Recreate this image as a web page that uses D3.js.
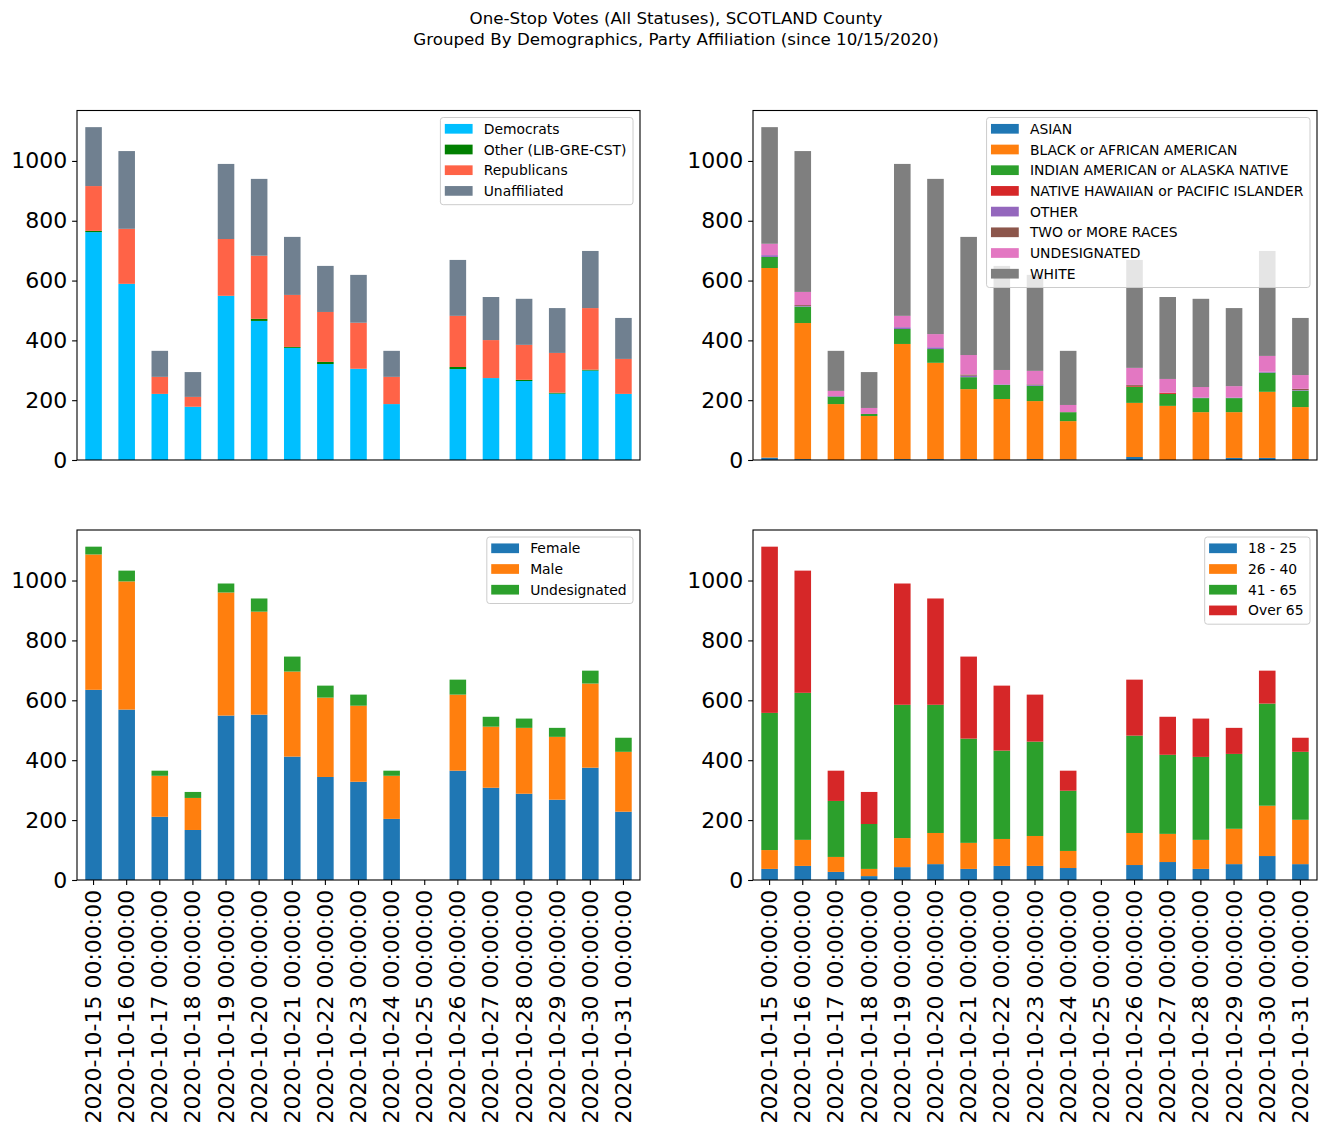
<!DOCTYPE html>
<html>
<head>
<meta charset="utf-8">
<script src="https://cdn.jsdelivr.net/npm/d3@7"></script>
<style>
html,body{margin:0;padding:0;background:#fff;}
svg text{font-family:"DejaVu Sans",sans-serif;}
</style>
</head>
<body>
<svg id="chart" width="1326" height="1137"></svg>
<script>
const dates = ["2020-10-15 00:00:00","2020-10-16 00:00:00","2020-10-17 00:00:00","2020-10-18 00:00:00","2020-10-19 00:00:00","2020-10-20 00:00:00","2020-10-21 00:00:00","2020-10-22 00:00:00","2020-10-23 00:00:00","2020-10-24 00:00:00","2020-10-25 00:00:00","2020-10-26 00:00:00","2020-10-27 00:00:00","2020-10-28 00:00:00","2020-10-29 00:00:00","2020-10-30 00:00:00","2020-10-31 00:00:00"];
const yTicks = [0,200,400,600,800,1000];

// Party affiliation
const partyNames = ["Democrats","Other (LIB-GRE-CST)","Republicans","Unaffiliated"];
const partyColors = ["#00bfff","#008000","#ff6347","#708090"];
const democrats    = [762,589,221,178,549,465,375,321,305,187,0,304,274,264,222,299,221];
const otherParty   = [4,0,0,0,0,7,3,7,0,0,0,7,0,4,3,3,0];
const republicans  = [150,184,57,33,190,211,174,167,154,91,0,171,127,117,133,206,117];
const unaffiliated = [197,260,87,83,251,257,194,154,160,87,0,187,144,154,150,191,137];

// Race
const raceNames = ["ASIAN","BLACK or AFRICAN AMERICAN","INDIAN AMERICAN or ALASKA NATIVE","NATIVE HAWAIIAN or PACIFIC ISLANDER","OTHER","TWO or MORE RACES","UNDESIGNATED","WHITE"];
const raceColors = ["#1f77b4","#ff7f0e","#2ca02c","#d62728","#9467bd","#8c564b","#e377c2","#7f7f7f"];
const asian     = [8,3,0,0,3,3,3,0,3,2,0,10,0,0,7,7,3];
const black     = [634,455,187,147,385,322,234,204,194,128,0,181,181,160,153,221,174];
const indian    = [37,55,25,7,50,46,40,47,51,30,0,54,40,47,47,64,55];
const hawaiian  = [0,0,0,0,0,0,0,0,0,0,0,3,4,0,0,0,0];
const otherRace = [6,2,2,0,6,6,5,2,3,0,0,0,0,2,2,3,2];
const twoOrMore = [0,3,0,0,0,0,4,0,2,0,0,3,0,0,0,0,4];
const undesRace = [38,44,17,20,38,44,65,48,45,24,0,57,46,35,38,53,46];
const white     = [390,471,134,120,508,519,395,348,321,181,0,361,274,295,261,351,191];

// Gender
const genderNames = ["Female","Male","Undesignated"];
const genderColors = ["#1f77b4","#ff7f0e","#2ca02c"];
const female     = [635,569,211,167,549,552,412,344,328,204,0,365,308,288,268,375,228];
const male       = [452,428,137,107,411,344,284,265,254,144,0,254,204,220,210,281,200];
const undesGender= [26,36,17,20,30,44,50,40,37,17,0,50,33,31,30,43,47];

// Age
const ageNames = ["18 - 25","26 - 40","41 - 65","Over 65"];
const ageColors = ["#1f77b4","#ff7f0e","#2ca02c","#d62728"];
const age18 = [37,47,27,13,43,53,37,47,47,40,0,50,60,37,53,80,53];
const age26 = [63,87,50,24,97,104,87,90,100,57,0,107,94,97,118,168,148];
const age41 = [458,491,187,150,445,428,348,295,315,201,0,325,264,277,250,341,227];
const age65 = [555,408,101,107,405,355,274,217,157,67,0,187,127,128,87,110,47];

const panels = [
  {names: partyNames, colors: partyColors, series: [democrats, otherParty, republicans, unaffiliated], x0: 77, x1: 640, y0: 110.5, y1: 460, xlabels: false},
  {names: raceNames, colors: raceColors, series: [asian, black, indian, hawaiian, otherRace, twoOrMore, undesRace, white], x0: 753, x1: 1317, y0: 110.5, y1: 460, xlabels: false},
  {names: genderNames, colors: genderColors, series: [female, male, undesGender], x0: 77, x1: 640, y0: 530, y1: 880, xlabels: true},
  {names: ageNames, colors: ageColors, series: [age18, age26, age41, age65], x0: 753, x1: 1317, y0: 530, y1: 880, xlabels: true}
];

const svg = d3.select("#chart");

// Title
svg.append("text").attr("x", 676).attr("y", 24).attr("text-anchor","middle")
  .attr("font-size", "16.7px").attr("fill","#000").text("One-Stop Votes (All Statuses), SCOTLAND County");
svg.append("text").attr("x", 676).attr("y", 44.5).attr("text-anchor","middle")
  .attr("font-size", "16.7px").attr("fill","#000").text("Grouped By Demographics, Party Affiliation (since 10/15/2020)");

panels.forEach(p => {
  const g = svg.append("g");
  const rows = dates.map((d, i) => {
    const r = {date: d};
    p.names.forEach((n, k) => r[n] = p.series[k][i]);
    return r;
  });
  const stack = d3.stack().keys(p.names)(rows);
  const totals = rows.map(r => d3.sum(p.names, n => r[n]));
  const x = d3.scaleBand().domain(dates).range([p.x0, p.x1]).paddingInner(0.5).paddingOuter(0.25);
  const y = d3.scaleLinear().domain([0, d3.max(totals) * 1.05]).range([p.y1, p.y0]);

  stack.forEach((layer, k) => {
    g.append("g").attr("fill", p.colors[k]).selectAll("rect").data(layer).join("rect")
      .attr("x", d => x(d.data.date))
      .attr("width", x.bandwidth())
      .attr("y", d => y(d[1]))
      .attr("height", d => Math.max(0, y(d[0]) - y(d[1])));
  });

  // y axis
  const ya = g.append("g").attr("transform", `translate(${p.x0},0)`)
    .call(d3.axisLeft(y).tickValues(yTicks).tickSize(4.9).tickPadding(4.9).tickFormat(d3.format("d")));
  ya.select(".domain").remove();
  ya.selectAll("line").attr("stroke","#000").attr("stroke-width",1.1);
  ya.selectAll("text").attr("font-size","22px").attr("fill","#000").attr("font-family","DejaVu Sans, sans-serif");

  if (p.xlabels) {
    const xa = g.append("g").attr("transform", `translate(0,${p.y1})`)
      .call(d3.axisBottom(x).tickSize(4.9).tickPadding(4.9));
    xa.select(".domain").remove();
    xa.selectAll("line").attr("stroke","#000").attr("stroke-width",1.1);
    xa.selectAll("text")
      .attr("font-size","22px").attr("fill","#000").attr("font-family","DejaVu Sans, sans-serif")
      .attr("text-anchor","end")
      .attr("dy", null)
      .attr("dominant-baseline","central")
      .attr("transform","translate(0,9.8) rotate(-90)")
      .attr("x", 0).attr("y", 0);
  }

  // frame
  g.append("rect").attr("x", p.x0).attr("y", p.y0).attr("width", p.x1 - p.x0).attr("height", p.y1 - p.y0)
    .attr("fill","none").attr("stroke","#000").attr("stroke-width",1.1);

  // legend
  const fs = 13.9, rowH = 20.7;
  const lg = g.append("g");
  const box = lg.append("rect");
  const items = lg.append("g");
  const texts = [];
  p.names.forEach((n, k) => {
    const t = items.append("text").attr("font-size", fs + "px").attr("fill","#000")
      .attr("dominant-baseline","central").text(n);
    texts.push(t);
  });
  const maxW = d3.max(texts, t => t.node().getComputedTextLength());
  const boxW = 4.4 + 27.8 + 11.1 + maxW + 6.5;
  const boxR = p.x1 - 7;
  const boxL = boxR - boxW;
  const boxT = p.y0 + 7;
  const boxH = 11.3 + (p.names.length - 1) * rowH + 13.8;
  box.attr("x", boxL).attr("y", boxT).attr("width", boxW).attr("height", boxH)
    .attr("rx", 2.8).attr("fill","#fff").attr("fill-opacity",0.8).attr("stroke","#cccccc").attr("stroke-width",1);
  p.names.forEach((n, k) => {
    const cy = boxT + 11.3 + k * rowH;
    items.insert("rect", "text").attr("x", boxL + 4.4).attr("y", cy - 4.85).attr("width", 27.8).attr("height", 9.7).attr("fill", p.colors[k]);
    texts[k].attr("x", boxL + 4.4 + 27.8 + 11.1).attr("y", cy);
  });
});
</script>
</body>
</html>
